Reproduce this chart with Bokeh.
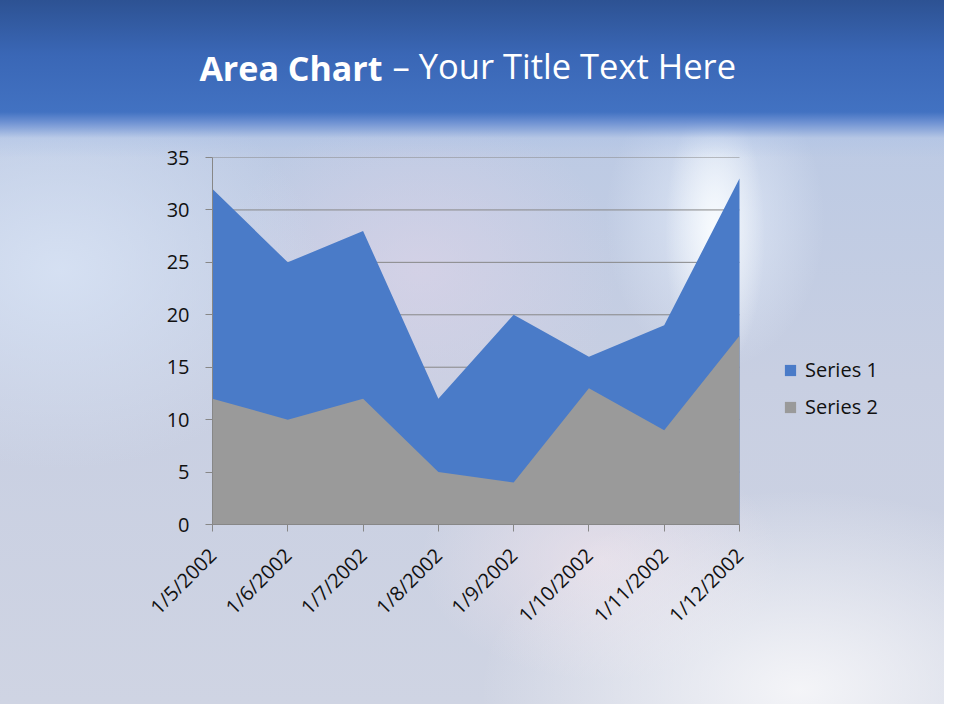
import math
from bokeh.plotting import figure
from bokeh.models import Range1d, FixedTicker, Legend, LegendItem, ColumnDataSource, Label
from bokeh.embed import file_html
from bokeh.resources import INLINE

# ---- data ----
categories = ["1/5/2002", "1/6/2002", "1/7/2002", "1/8/2002",
              "1/9/2002", "1/10/2002", "1/11/2002", "1/12/2002"]
series1 = [32, 25, 28, 12, 20, 16, 19, 33]
series2 = [12, 10, 12, 5, 4, 13, 9, 18]
y_ticks = [0, 5, 10, 15, 20, 25, 30, 35]
series_names = ["Series 1", "Series 2"]
title_bold = "Area Chart"
title_rest = "– Your Title Text Here"

n = len(categories)
xs = list(range(n))
src = ColumnDataSource(dict(x=xs, s1=series1, s2=series2, zero=[0] * n))
grid_src = ColumnDataSource(dict(x0=[0] * len(y_ticks), x1=[n - 1] * len(y_ticks),
                                 y=y_ticks))

FONT = "Open Sans"
BLUE = "#4a7bc8"
GREY = "#9a9a9a"
AXIS = "#878787"
W, H = 944, 704
LEFT, RIGHT_AXIS_END, TOP, BOTTOM = 212, 739, 157, 524

# frame runs to the right edge so the legend can sit inside it;
# the category axis itself ends at the last category (pixel 739)
x_end = (n - 1) * (W - LEFT) / (RIGHT_AXIS_END - LEFT)

p = figure(width=W, height=H, output_backend="svg", toolbar_location=None,
           x_range=Range1d(0, x_end), y_range=Range1d(0, 35),
           min_border_left=LEFT, min_border_right=0,
           min_border_top=TOP, min_border_bottom=H - BOTTOM)
p.border_fill_alpha = 0
p.background_fill_alpha = 0
p.outline_line_color = None
p.grid.visible = False

p.segment(x0="x0", x1="x1", y0="y", y1="y", source=grid_src,
          line_color=AXIS, line_width=1, level="underlay")
r1 = p.varea(x="x", y1="zero", y2="s1", source=src, fill_color=BLUE, fill_alpha=1)
r2 = p.varea(x="x", y1="zero", y2="s2", source=src, fill_color=GREY, fill_alpha=1)

xa = p.xaxis[0]
xa.bounds = (0, n - 1)
xa.ticker = FixedTicker(ticks=xs)
xa.major_label_overrides = {i: c for i, c in zip(xs, categories)}
xa.major_label_orientation = math.pi / 4
xa.minor_tick_line_color = None
xa.major_tick_in = 0
xa.major_tick_out = 7
xa.axis_line_color = AXIS
xa.major_tick_line_color = AXIS
xa.major_label_text_font = FONT
xa.major_label_text_font_size = "20px"
xa.major_label_text_color = "#111111"
xa.major_label_standoff = 20

ya = p.yaxis[0]
ya.ticker = FixedTicker(ticks=y_ticks)
ya.minor_tick_line_color = None
ya.major_tick_in = 0
ya.major_tick_out = 7
ya.axis_line_color = AXIS
ya.major_tick_line_color = AXIS
ya.major_label_text_font = FONT
ya.major_label_text_font_size = "20px"
ya.major_label_text_color = "#111111"
ya.major_label_standoff = 16

legend = Legend(items=[LegendItem(label=series_names[0], renderers=[r1]),
                       LegendItem(label=series_names[1], renderers=[r2])],
                location=(783 - LEFT, 104), padding=0, margin=0,
                glyph_width=14, glyph_height=14, label_height=20, spacing=10,
                label_standoff=8, background_fill_alpha=0, border_line_alpha=0,
                label_text_font=FONT, label_text_font_size="20px",
                label_text_color="#111111")
p.add_layout(legend)

# title pieces in the panels above the frame
t1 = Label(x=170, y=78, y_offset=12, x_units="screen", y_units="screen", text=title_bold,
           text_font=FONT, text_font_style="bold", text_font_size="34px",
           text_color="white", text_align="right", text_baseline="alphabetic")
t2 = Label(x=180, y=45, y_offset=1, x_units="screen", y_units="screen", text=title_rest,
           text_font=FONT, text_font_size="34.5px",
           text_color="white", text_align="left", text_baseline="alphabetic")
p.add_layout(t1, "above")
p.add_layout(t2, "above")

p.styles = {"background": (
    "linear-gradient(to bottom, #2d5293 0px, #3a67b6 55px, #4272c2 112px, "
    "rgba(100,138,208,0.9) 122px, rgba(170,192,230,0.4) 138px, rgba(190,205,232,0) 158px),"
    "radial-gradient(ellipse 50px 140px at 715px 235px, rgba(250,253,255,0.95), rgba(250,253,255,0) 100%),"
    "radial-gradient(ellipse 110px 150px at 715px 220px, rgba(232,240,252,0.75), rgba(232,240,252,0) 100%),"
    "radial-gradient(ellipse 320px 200px at 800px 690px, rgba(248,248,250,0.9), rgba(248,248,250,0) 100%),"
    "radial-gradient(ellipse 180px 120px at 600px 560px, rgba(240,228,236,0.7), rgba(240,228,236,0) 100%),"
    "radial-gradient(ellipse 260px 200px at 60px 270px, rgba(215,226,244,0.9), rgba(215,226,244,0) 100%),"
    "radial-gradient(ellipse 200px 160px at 420px 270px, rgba(222,212,232,0.6), rgba(222,212,232,0) 100%),"
    "linear-gradient(to bottom, #bccae4 130px, #c8cfe2 380px, #cfd4e3 704px)"
)}

open("out.html", "w").write(file_html(p, INLINE))
